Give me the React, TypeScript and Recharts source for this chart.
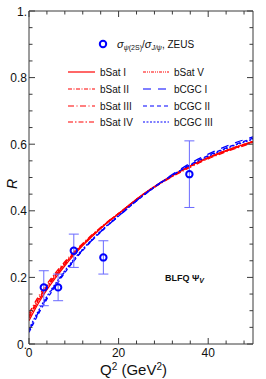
import React from "react";
import {
  ComposedChart,
  Line,
  Scatter,
  ErrorBar,
  XAxis,
  YAxis,
  Customized,
} from "recharts";

const Q2 = [0, 2, 4, 6, 8, 10, 12, 14, 16, 18, 20, 25, 30, 35, 40, 45, 50];
const bSatI = [0.070, 0.120, 0.163, 0.200, 0.235, 0.267, 0.296, 0.322, 0.347, 0.370, 0.391, 0.445, 0.490, 0.528, 0.560, 0.586, 0.608];
const bSatII = [0.085, 0.133, 0.174, 0.210, 0.243, 0.273, 0.300, 0.325, 0.349, 0.371, 0.392, 0.444, 0.488, 0.526, 0.558, 0.584, 0.606];
const bSatIII = [0.092, 0.140, 0.180, 0.215, 0.247, 0.276, 0.302, 0.327, 0.350, 0.372, 0.392, 0.443, 0.487, 0.524, 0.556, 0.582, 0.604];
const bSatIV = [0.078, 0.127, 0.169, 0.206, 0.240, 0.271, 0.299, 0.324, 0.348, 0.370, 0.391, 0.444, 0.489, 0.527, 0.559, 0.585, 0.607];
const bSatV = [0.082, 0.130, 0.172, 0.208, 0.241, 0.272, 0.299, 0.324, 0.348, 0.371, 0.392, 0.445, 0.490, 0.528, 0.560, 0.586, 0.609];
const bCGCI = [0.040, 0.092, 0.139, 0.180, 0.217, 0.251, 0.283, 0.311, 0.337, 0.361, 0.384, 0.441, 0.491, 0.535, 0.570, 0.599, 0.622];
const bCGCII = [0.035, 0.088, 0.135, 0.176, 0.214, 0.249, 0.281, 0.310, 0.336, 0.361, 0.384, 0.440, 0.489, 0.531, 0.566, 0.594, 0.618];
const bCGCIII = [0.045, 0.097, 0.143, 0.183, 0.220, 0.254, 0.285, 0.313, 0.339, 0.363, 0.386, 0.442, 0.490, 0.530, 0.564, 0.592, 0.615];

const zeusQ2 = [3.3, 6.5, 10.0, 16.6, 35.8];
const zeusR = [0.17, 0.17, 0.28, 0.26, 0.51];
const zeusErrLow = [0.055, 0.04, 0.05, 0.05, 0.10];
const zeusErrHigh = [0.05, 0.04, 0.05, 0.05, 0.10];

const xTicks = [0, 4, 8, 12, 16, 20, 24, 28, 32, 36, 40, 44, 48];
const yTicks = [0, 0.05, 0.1, 0.15, 0.2, 0.25, 0.3, 0.35, 0.4, 0.45, 0.5, 0.55, 0.6, 0.65, 0.7, 0.75, 0.8, 0.85, 0.9, 0.95, 1.0];

const RED = "#ff0000";
const BLUE = "#0000ff";
const FONT = "'Liberation Sans', Arial, Helvetica, sans-serif";

const series = [
  { key: "bSatI", name: "bSat I", values: bSatI, color: RED, dash: undefined as string | undefined },
  { key: "bSatII", name: "bSat II", values: bSatII, color: RED, dash: "4 1.5 1 1.5" },
  { key: "bSatIII", name: "bSat III", values: bSatIII, color: RED, dash: "6 2.5 1 2.5" },
  { key: "bSatIV", name: "bSat IV", values: bSatIV, color: RED, dash: "5 2 1.5 2" },
  { key: "bSatV", name: "bSat V", values: bSatV, color: RED, dash: "3 1 1 1 1 1" },
  { key: "bCGCI", name: "bCGC I", values: bCGCI, color: BLUE, dash: "8 7" },
  { key: "bCGCII", name: "bCGC II", values: bCGCII, color: BLUE, dash: "4 3" },
  { key: "bCGCIII", name: "bCGC III", values: bCGCIII, color: BLUE, dash: "2 1.5" },
];

const curveData = Q2.map((q, i) => {
  const row: any = { x: q };
  series.forEach((s) => (row[s.key] = s.values[i]));
  return row;
});

const zeusData = zeusQ2.map((q, i) => ({
  x: q,
  y: zeusR[i],
  err: [zeusErrLow[i], zeusErrHigh[i]],
}));

const isMajorX = (v: number) => v % 20 === 0;
const isMajorY = (v: number) => Math.round(v * 100) % 20 === 0;
const AX = "#3a3a3a";

const BottomTick = (p: any) => {
  const v = p.payload.value;
  const major = isMajorX(v);
  return (
    <g>
      <line x1={p.x} x2={p.x} y1={p.y} y2={p.y - (major ? 6 : 3.5)} stroke={AX} strokeWidth={1} />
      {major && (
        <text x={p.x} y={p.y + 13} textAnchor="middle" fontSize={12} fontFamily={FONT} fill="#111">
          {v}
        </text>
      )}
    </g>
  );
};
const TopTick = (p: any) => {
  const v = p.payload.value;
  const major = isMajorX(v);
  return <line x1={p.x} x2={p.x} y1={p.y} y2={p.y + (major ? 6 : 3.5)} stroke={AX} strokeWidth={1} />;
};
const LeftTick = (p: any) => {
  const v = p.payload.value;
  const major = isMajorY(v);
  const label = v === 0 ? "0." : v === 1 ? "1." : v.toFixed(1);
  return (
    <g>
      <line x1={p.x} x2={p.x + (major ? 6 : 3.5)} y1={p.y} y2={p.y} stroke={AX} strokeWidth={1} />
      {major && (
        <text x={p.x - 2} y={p.y + 4.5} textAnchor="end" fontSize={12} fontFamily={FONT} fill="#111">
          {label}
        </text>
      )}
    </g>
  );
};
const RightTick = (p: any) => {
  const v = p.payload.value;
  const major = isMajorY(v);
  return <line x1={p.x} x2={p.x - (major ? 6 : 3.5)} y1={p.y} y2={p.y} stroke={AX} strokeWidth={1} />;
};

const Circle = (p: any) => (
  <circle cx={p.cx} cy={p.cy} r={3.2} fill="none" stroke={BLUE} strokeWidth={2} />
);

const Annotations = () => {
  const left = series.slice(0, 4);
  const right = series.slice(4);
  const rows = [72, 89, 106, 122];
  return (
    <g fontFamily={FONT}>
      <circle cx={103} cy={44} r={3.2} fill="none" stroke={BLUE} strokeWidth={2} />
      <text x={117} y={47.5} fontSize={10} fill="#111">
        <tspan fontStyle="italic" fontSize={11}>σ</tspan>
        <tspan fontStyle="italic" fontSize={7} dy={2}>ψ</tspan>
        <tspan fontSize={7}>(2S)</tspan>
        <tspan dy={-2}>/</tspan>
        <tspan fontStyle="italic" fontSize={11}>σ</tspan>
        <tspan fontStyle="italic" fontSize={7} dy={2}>J/ψ</tspan>
        <tspan dy={-2}>, ZEUS</tspan>
      </text>
      {left.map((s, i) => (
        <g key={s.key}>
          <line x1={68} x2={95} y1={rows[i]} y2={rows[i]} stroke={s.color} strokeWidth={1.2} strokeDasharray={s.dash} />
          <text x={100} y={rows[i] + 3.5} fontSize={10} fill="#111">{s.name}</text>
        </g>
      ))}
      {right.map((s, i) => (
        <g key={s.key}>
          <line x1={143} x2={169} y1={rows[i]} y2={rows[i]} stroke={s.color} strokeWidth={1.2} strokeDasharray={s.dash} />
          <text x={174} y={rows[i] + 3.5} fontSize={10} fill="#111">{s.name}</text>
        </g>
      ))}
      <text x={165} y={281} fontSize={9} fontWeight="bold" fill="#111">
        BLFQ Ψ
        <tspan fontStyle="italic" fontSize={7} dy={2}>V</tspan>
      </text>
      <text x={0} y={0} transform="translate(17,184) rotate(-90)" textAnchor="middle" fontSize={14} fontStyle="italic" fill="#111">
        R
      </text>
      <text x={100} y={375} fontSize={15} fill="#111">
        Q<tspan fontSize={10} dy={-5}>2</tspan>
        <tspan dy={5}> (GeV</tspan>
        <tspan fontSize={10} dy={-5}>2</tspan>
        <tspan dy={5}>)</tspan>
      </text>
    </g>
  );
};

export default function App() {
  return (
    <div style={{ position: "absolute", left: 0, top: 0, width: 266, height: 379, background: "#fff" }}>
      <ComposedChart
        width={266}
        height={379}
        data={curveData}
        margin={{ top: 10, right: 12, bottom: 34, left: 28 }}
      >
        <XAxis
          xAxisId="b"
          dataKey="x"
          type="number"
          domain={[0, 50]}
          ticks={xTicks}
          interval={0}
          height={1}
          tickSize={0}
          tickMargin={0}
          tickLine={false}
          axisLine={{ stroke: AX }}
          tick={BottomTick}
          allowDataOverflow
        />
        <XAxis
          xAxisId="t"
          orientation="top"
          dataKey="x"
          type="number"
          domain={[0, 50]}
          ticks={xTicks}
          interval={0}
          height={1}
          tickSize={0}
          tickMargin={0}
          tickLine={false}
          axisLine={{ stroke: AX }}
          tick={TopTick}
          allowDataOverflow
        />
        <YAxis
          yAxisId="l"
          type="number"
          domain={[0, 1]}
          ticks={yTicks}
          interval={0}
          width={1}
          tickSize={0}
          tickMargin={0}
          tickLine={false}
          axisLine={{ stroke: AX }}
          tick={LeftTick}
          allowDataOverflow
        />
        <YAxis
          yAxisId="r"
          orientation="right"
          type="number"
          domain={[0, 1]}
          ticks={yTicks}
          interval={0}
          width={1}
          tickSize={0}
          tickMargin={0}
          tickLine={false}
          axisLine={{ stroke: AX }}
          tick={RightTick}
          allowDataOverflow
        />
        {series.map((s) => (
          <Line
            key={s.key}
            xAxisId="b"
            yAxisId="l"
            type="monotone"
            dataKey={s.key}
            stroke={s.color}
            strokeWidth={1.3}
            strokeDasharray={s.dash}
            dot={false}
            activeDot={false}
            isAnimationActive={false}
          />
        ))}
        <Scatter
          xAxisId="b"
          yAxisId="l"
          data={zeusData}
          dataKey="y"
          shape={Circle}
          isAnimationActive={false}
        >
          <ErrorBar dataKey="err" direction="y" width={5} stroke="#6a6aff" strokeWidth={1} />
        </Scatter>
        <Customized component={Annotations} />
      </ComposedChart>
    </div>
  );
}
